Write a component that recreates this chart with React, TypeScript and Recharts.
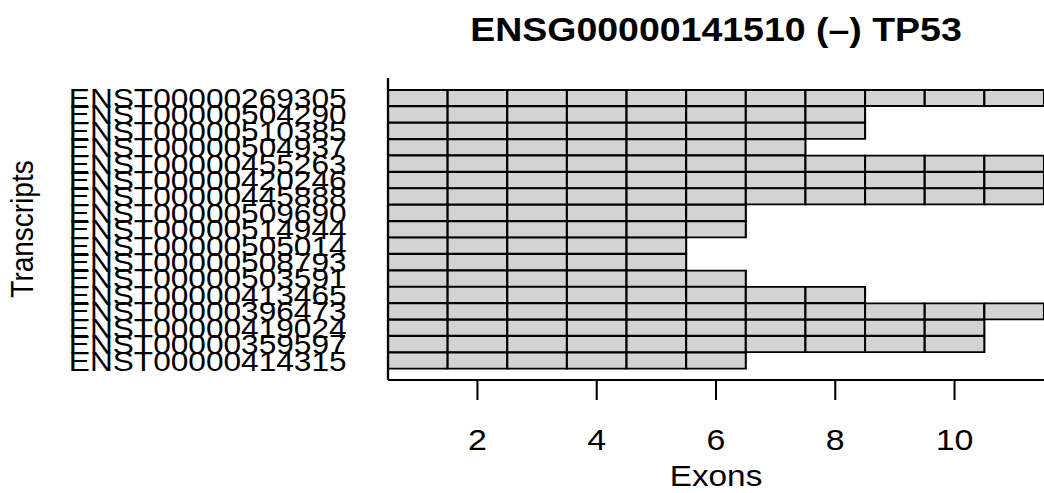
import React from 'react';
import { BarChart, Bar, XAxis, YAxis } from 'recharts';

// transcripts, top to bottom as drawn
const transcripts = [
  'ENST00000269305',
  'ENST00000504290',
  'ENST00000510385',
  'ENST00000504937',
  'ENST00000455263',
  'ENST00000420246',
  'ENST00000445888',
  'ENST00000509690',
  'ENST00000514944',
  'ENST00000505014',
  'ENST00000508793',
  'ENST00000503591',
  'ENST00000413465',
  'ENST00000396473',
  'ENST00000419024',
  'ENST00000359597',
  'ENST00000414315',
];
const exonCounts = [11, 8, 8, 7, 11, 11, 11, 6, 6, 5, 5, 6, 8, 11, 10, 10, 6];
const exonNumbers = [1, 2, 3, 4, 5, 6, 7, 8, 9, 10, 11];
const xTicks = [2, 4, 6, 8, 10];
const firstExonStart = 0.5;

const data = transcripts.map((name, i) => {
  const row: Record<string, string | number> = { name, start: firstExonStart };
  exonNumbers.forEach(k => {
    row['e' + k] = exonCounts[i] >= k ? 1 : 0;
  });
  return row;
});

// the reference is horizontally stretched relative to its text
const stretch = 1.15;
const W = 1044;
const H = 493;
const font = '"Liberation Sans", Arial, sans-serif';

const App = () => {
  const innerW = W / stretch;
  return (
    <div style={{ position: 'absolute', left: 0, top: 0, width: W, height: H, overflow: 'hidden', background: '#fff', fontFamily: font }}>
      <div style={{ position: 'relative', width: innerW, height: H, transform: `scaleX(${stretch})`, transformOrigin: '0 0' }}>
        <div
          style={{
            position: 'absolute',
            left: 337.4,
            width: innerW - 337.4,
            top: 13.5,
            textAlign: 'center',
            fontSize: 32.6,
            fontWeight: 'bold',
            lineHeight: 1,
            color: '#000',
          }}
        >
          ENSG00000141510 (–) TP53
        </div>
        <BarChart
          width={innerW}
          height={H}
          data={data}
          layout="vertical"
          barCategoryGap={0}
          margin={{ top: 78, right: 0, bottom: 0, left: 0 }}
          style={{ fontFamily: font }}
        >
          <XAxis
            type="number"
            domain={[0.5, 11.5]}
            ticks={xTicks}
            allowDataOverflow
            height={113}
            tickSize={20}
            tickMargin={29}
            axisLine={{ stroke: '#000', strokeWidth: 2.2 }}
            tickLine={{ stroke: '#000', strokeWidth: 1.8 }}
            tick={{ fontSize: 29.5, fill: '#000', fontFamily: font }}
            label={{
              content: (props: any) => {
                const vb = props.viewBox;
                return (
                  <text x={vb.x + vb.width / 2} y={486} textAnchor="middle" fontSize={29} fill="#000" fontFamily={font}>
                    Exons
                  </text>
                );
              },
            }}
          />
          <YAxis
            type="category"
            dataKey="name"
            width={337.4}
            interval={0}
            padding={{ top: 12, bottom: 11 }}
            tickSize={0}
            tickMargin={36}
            tickLine={false}
            axisLine={{ stroke: '#000', strokeWidth: 2 }}
            tick={{ fontSize: 27.5, fill: '#000', fontFamily: font }}
            label={{
              content: (props: any) => {
                const vb = props.viewBox;
                const cx = 29;
                const cy = vb.y + vb.height / 2;
                return (
                  <text x={cx} y={cy} transform={`rotate(-90 ${cx} ${cy})`} textAnchor="middle" fontSize={28} fill="#000" fontFamily={font}>
                    Transcripts
                  </text>
                );
              },
            }}
          />
          <Bar dataKey="start" stackId="a" fill="none" stroke="none" isAnimationActive={false} />
          {exonNumbers.map(k => (
            <Bar
              key={k}
              dataKey={'e' + k}
              stackId="a"
              fill="#d3d3d3"
              stroke="#000"
              strokeWidth={1.8}
              isAnimationActive={false}
            />
          ))}
        </BarChart>
      </div>
    </div>
  );
};

export default App;
